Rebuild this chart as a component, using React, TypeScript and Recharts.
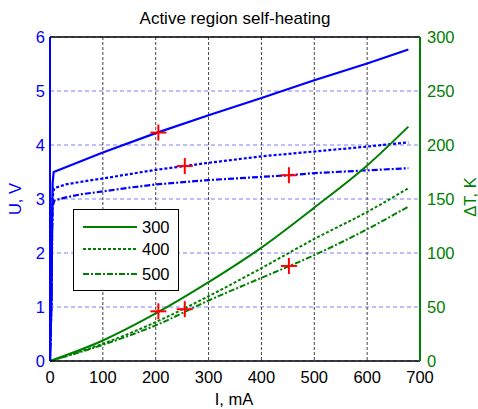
import {
  ComposedChart,
  CartesianGrid,
  Legend,
  Line,
  ReferenceLine,
  Scatter,
  XAxis,
  YAxis,
} from "recharts";

const FONT = "'Liberation Sans', Arial, sans-serif";
const BLUE = "#0000ff";
const GREEN = "#008000";
const RED = "#ff0000";

// I, mA ticks
const currentTicks = [0, 100, 200, 300, 400, 500, 600, 700];
const voltageTicks = [0, 1, 2, 3, 4, 5, 6];
const tempTicks = [0, 50, 100, 150, 200, 250, 300];

// voltage curves U(I) for the three heat-sink temperatures
const u300 = [
  { i: 0, u: 0 }, { i: 3, u: 1.2 }, { i: 4, u: 2.6 }, { i: 5, u: 3.3 },
  { i: 7, u: 3.5 }, { i: 100, u: 3.86 }, { i: 200, u: 4.22 }, { i: 300, u: 4.55 },
  { i: 400, u: 4.87 }, { i: 500, u: 5.2 }, { i: 600, u: 5.51 }, { i: 678, u: 5.77 },
];
const u400 = [
  { i: 0, u: 0 }, { i: 3, u: 1.2 }, { i: 4, u: 2.5 }, { i: 5, u: 3.05 },
  { i: 8, u: 3.2 }, { i: 30, u: 3.27 }, { i: 60, u: 3.32 }, { i: 100, u: 3.38 },
  { i: 150, u: 3.46 }, { i: 200, u: 3.54 }, { i: 255, u: 3.61 }, { i: 300, u: 3.67 },
  { i: 400, u: 3.79 }, { i: 500, u: 3.88 }, { i: 600, u: 3.97 }, { i: 678, u: 4.05 },
];
const u500 = [
  { i: 0, u: 0 }, { i: 3, u: 1.2 }, { i: 4, u: 2.4 }, { i: 5, u: 2.85 },
  { i: 8, u: 2.97 }, { i: 30, u: 3.03 }, { i: 60, u: 3.09 }, { i: 100, u: 3.14 },
  { i: 150, u: 3.21 }, { i: 200, u: 3.27 }, { i: 300, u: 3.35 }, { i: 400, u: 3.41 },
  { i: 452, u: 3.44 }, { i: 500, u: 3.48 }, { i: 600, u: 3.53 }, { i: 678, u: 3.57 },
];

// self-heating curves dT(I)
const t300 = [
  { i: 0, t: 0 }, { i: 100, t: 19 }, { i: 200, t: 44 }, { i: 300, t: 73 },
  { i: 400, t: 105 }, { i: 500, t: 142 }, { i: 600, t: 181 }, { i: 678, t: 217 },
];
const t400 = [
  { i: 0, t: 0 }, { i: 100, t: 16 }, { i: 200, t: 36 }, { i: 300, t: 60 },
  { i: 400, t: 86 }, { i: 500, t: 113 }, { i: 600, t: 138 }, { i: 678, t: 160 },
];
const t500 = [
  { i: 0, t: 0 }, { i: 100, t: 15 }, { i: 200, t: 33 }, { i: 300, t: 56 },
  { i: 400, t: 77 }, { i: 500, t: 98 }, { i: 600, t: 122 }, { i: 678, t: 143 },
];

// red "+" operating points
const opU = [
  { i: 205, u: 4.23 }, { i: 255, u: 3.61 }, { i: 452, u: 3.44 },
];
const opT = [
  { i: 205, t: 46 }, { i: 255, t: 48 }, { i: 452, t: 88 },
];

const legendItems = [
  { label: "300", dash: undefined },
  { label: "400", dash: "3 2" },
  { label: "500", dash: "6 2 2 2" },
];

const Plus = (props: any) => {
  const { cx, cy } = props;
  if (cx == null || cy == null) return null;
  return (
    <g>
      <line x1={cx - 8} x2={cx + 8} y1={cy} y2={cy} stroke={RED} strokeWidth={2} />
      <line x1={cx} x2={cx} y1={cy - 8} y2={cy + 8} stroke={RED} strokeWidth={2} />
    </g>
  );
};

const LegendBox = () => (
  <svg width={106} height={82} style={{ display: "block" }}>
    <rect x={0.5} y={0.5} width={105} height={81} fill="#fff" stroke="#000" />
    {legendItems.map((it, k) => {
      const y = [18, 40, 65][k];
      return (
        <g key={it.label}>
          <line x1={10} x2={64} y1={y} y2={y} stroke={GREEN} strokeWidth={2} strokeDasharray={it.dash} />
          <text x={69} y={y} dy="0.36em" fontSize={16.5} fontFamily={FONT} fill="#000">
            {it.label}
          </text>
        </g>
      );
    })}
  </svg>
);

export default function App() {
  return (
    <div style={{ position: "absolute", left: 0, top: 0, width: 478, height: 409, background: "#fff" }}>
      <ComposedChart
        width={478}
        height={409}
        margin={{ top: 37, right: 0, left: 0, bottom: 0 }}
        style={{ fontFamily: FONT }}
      >
        <CartesianGrid
          yAxisId="left"
          vertical={false}
          stroke="#7f7fff"
          strokeDasharray="4 3"
        />
        <CartesianGrid
          yAxisId="left"
          horizontal={false}
          stroke="#444"
          strokeDasharray="3 2"
        />
        <XAxis
          dataKey="i"
          type="number"
          domain={[0, 700]}
          ticks={currentTicks}
          allowDataOverflow
          height={48}
          tickLine={false}
          tickSize={0}
          tickMargin={10}
          axisLine={{ stroke: "#000", strokeWidth: 1.5 }}
          tick={{ fill: "#000", fontSize: 16.5 }}
        />
        <YAxis
          yAxisId="left"
          orientation="left"
          domain={[0, 6]}
          ticks={voltageTicks}
          width={50}
          tickLine={false}
          tickSize={0}
          tickMargin={5}
          axisLine={{ stroke: BLUE, strokeWidth: 2 }}
          tick={{ fill: BLUE, fontSize: 16.5 }}
        />
        <YAxis
          yAxisId="right"
          orientation="right"
          domain={[0, 300]}
          ticks={tempTicks}
          width={58}
          tickLine={false}
          tickSize={0}
          tickMargin={7}
          axisLine={{ stroke: GREEN, strokeWidth: 2 }}
          tick={{ fill: GREEN, fontSize: 16.5 }}
        />
        <ReferenceLine yAxisId="left" y={6} stroke="#000" strokeWidth={1.5} />

        <Line data={u300} dataKey="u" yAxisId="left" type="linear" stroke={BLUE} strokeWidth={2.2} dot={false} isAnimationActive={false} />
        <Line data={u400} dataKey="u" yAxisId="left" type="linear" stroke={BLUE} strokeWidth={2.2} strokeDasharray="3 2" dot={false} isAnimationActive={false} />
        <Line data={u500} dataKey="u" yAxisId="left" type="linear" stroke={BLUE} strokeWidth={2.2} strokeDasharray="6 2 2 2" dot={false} isAnimationActive={false} />

        <Line data={t300} dataKey="t" yAxisId="right" type="monotone" stroke={GREEN} strokeWidth={2} dot={false} isAnimationActive={false} />
        <Line data={t400} dataKey="t" yAxisId="right" type="monotone" stroke={GREEN} strokeWidth={2} strokeDasharray="3 2" dot={false} isAnimationActive={false} />
        <Line data={t500} dataKey="t" yAxisId="right" type="monotone" stroke={GREEN} strokeWidth={2} strokeDasharray="6 2 2 2" dot={false} isAnimationActive={false} />

        <Scatter data={opU} dataKey="u" yAxisId="left" shape={Plus} isAnimationActive={false} />
        <Scatter data={opT} dataKey="t" yAxisId="right" shape={Plus} isAnimationActive={false} />

        <Legend
          layout="horizontal"
          verticalAlign="middle"
          align="center"
          content={LegendBox}
          wrapperStyle={{ position: "absolute", left: 73, top: 209, width: 106, height: 82 }}
        />
      </ComposedChart>
      <svg
        width={478}
        height={409}
        style={{ position: "absolute", left: 0, top: 0, pointerEvents: "none" }}
        fontFamily={FONT}
      >
        <text x={235} y={24} textAnchor="middle" fontSize={17} fill="#000">
          Active region self-heating
        </text>
        <text x={234} y={405} textAnchor="middle" fontSize={16.5} fill="#000">
          I, mA
        </text>
        <text
          x={0}
          y={0}
          transform="translate(21,199) rotate(-90)"
          textAnchor="middle"
          fontSize={16.5}
          fill={BLUE}
        >
          U, V
        </text>
        <text
          x={0}
          y={0}
          transform="translate(476,197) rotate(-90)"
          textAnchor="middle"
          fontSize={16.5}
          fill={GREEN}
        >
          ΔT, K
        </text>
      </svg>
    </div>
  );
}
